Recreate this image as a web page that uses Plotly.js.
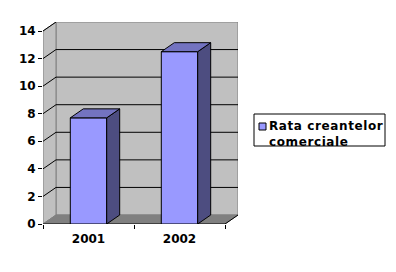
<!DOCTYPE html>
<html>
<head>
<meta charset="utf-8">
<script src="https://cdn.plot.ly/plotly-3.0.1.min.js"></script>
<style>
html,body{margin:0;padding:0;background:#fff;}
#chart{width:396px;height:272px;}
.annotation-text{letter-spacing:0.6px;}
</style>
</head>
<body>
<div id="chart"></div>
<script>
// ---- data ----
const categories = ['2001', '2002'];
const values = [7.7, 12.5];
const seriesName = 'Rata creantelor<br>comerciale';
const yTickVals = [0, 2, 4, 6, 8, 10, 12, 14];

// ---- layout geometry (pixels) ----
const W = 396, H = 272;
const PL = 43, PW = 195, PT = 22, PH = 202;
const CAT_PX = 91;                 // pixel width of one category
const DEPTH_PX_X = 13, DEPTH_PX_Y = 9;
const Y_MAX = 14;
const PX_PER_UNIT = 193 / Y_MAX;
const DX = DEPTH_PX_X / CAT_PX;
const DY = DEPTH_PX_Y / PX_PER_UNIT;
const NC = categories.length;
const BAR_HALF = 0.2;

const FRONT = '#9999ff', SIDE = '#4d4d80', TOP = '#7373c0';
const WALL = '#c0c0c0', FLOOR = '#808080', EDGE = '#808080';
const font = {family: 'DejaVu Sans', size: 12, color: '#000', weight: 700};

const xc = categories.map((c, i) => i + 0.5);

const traces = [];
// front faces
traces.push({
  type: 'bar', x: xc, y: values, width: xc.map(() => 2 * BAR_HALF),
  marker: {color: FRONT, line: {color: '#000', width: 1}},
  showlegend: false, hoverinfo: 'skip'
});
// side and top faces
const sx = [], sy = [], tx = [], ty = [];
values.forEach((v, i) => {
  const r = xc[i] + BAR_HALF, l = xc[i] - BAR_HALF;
  sx.push(r, r, r + DX, r + DX, r, null);
  sy.push(0, v, v + DY, DY, 0, null);
  tx.push(l, r, r + DX, l + DX, l, null);
  ty.push(v, v, v + DY, v + DY, v, null);
});
traces.push({type: 'scatter', mode: 'lines', x: sx, y: sy, fill: 'toself',
  fillcolor: SIDE, line: {color: '#000', width: 1}, showlegend: false, hoverinfo: 'skip'});
traces.push({type: 'scatter', mode: 'lines', x: tx, y: ty, fill: 'toself',
  fillcolor: TOP, line: {color: '#000', width: 1}, showlegend: false, hoverinfo: 'skip'});

// ---- walls ----
const shapes = [];
shapes.push({type: 'rect', xref: 'x', yref: 'y', layer: 'below',
  x0: DX, x1: NC + DX, y0: DY, y1: Y_MAX + DY,
  fillcolor: WALL, line: {color: EDGE, width: 1}});
shapes.push({type: 'path', xref: 'x', yref: 'y', layer: 'below',
  path: `M0,0 L0,${Y_MAX} L${DX},${Y_MAX + DY} L${DX},${DY} Z`,
  fillcolor: WALL, line: {color: EDGE, width: 1}});
shapes.push({type: 'path', xref: 'x', yref: 'y', layer: 'below',
  path: `M0,0 L${NC},0 L${NC + DX},${DY} L${DX},${DY} Z`,
  fillcolor: FLOOR, line: {color: FLOOR, width: 1}});
yTickVals.forEach(v => {
  if (v > 0 && v < Y_MAX) {
    shapes.push({type: 'line', xref: 'x', yref: 'y', layer: 'below',
      x0: DX, x1: NC + DX, y0: v + DY, y1: v + DY, line: {color: '#000', width: 1}});
  }
  if (v > 0) {
    shapes.push({type: 'line', xref: 'x', yref: 'y', layer: 'below',
      x0: 0, x1: DX, y0: v, y1: v + DY, line: {color: '#000', width: 1}});
  }
});
shapes.push({type: 'line', xref: 'x', yref: 'y', layer: 'below',
  x0: 0, x1: NC, y0: 0, y1: 0, line: {color: '#000', width: 1}});
shapes.push({type: 'line', xref: 'x', yref: 'y', layer: 'below',
  x0: NC, x1: NC + DX, y0: 0, y1: DY, line: {color: '#000', width: 1}});

// ---- legend (drawn box) ----
const px = p => (p - PL) / PW;
const py = p => (PT + PH - p) / PH;
shapes.push({type: 'rect', xref: 'paper', yref: 'paper',
  x0: px(254), x1: px(385), y0: py(146), y1: py(114),
  fillcolor: '#fff', line: {color: '#000', width: 1}});
shapes.push({type: 'rect', xref: 'paper', yref: 'paper',
  x0: px(259), x1: px(266), y0: py(130), y1: py(123),
  fillcolor: FRONT, line: {color: '#000', width: 1}});
const annotations = [{
  xref: 'paper', yref: 'paper', x: px(267), y: py(134),
  xanchor: 'left', yanchor: 'middle', align: 'left',
  text: seriesName, showarrow: false, font: font
}];

const layout = {
  width: W, height: H,
  margin: {l: PL, r: W - PL - PW, t: PT, b: H - PT - PH, pad: 0},
  paper_bgcolor: '#fff', plot_bgcolor: '#fff',
  showlegend: false,
  font: font,
  xaxis: {
    range: [0, NC + DX], fixedrange: true,
    tickmode: 'array', tickvals: xc, ticktext: categories, ticks: '',
    showgrid: false, zeroline: false, showline: false,
    tickfont: font, ticklabelstandoff: 6,
    minor: {tickmode: 'array', tickvals: categories.map((c, i) => i).concat([NC]),
            ticks: 'outside', ticklen: 4, tickcolor: '#000', tickwidth: 1, showgrid: false}
  },
  yaxis: {
    range: [0, Y_MAX + DY], fixedrange: true,
    tickmode: 'array', tickvals: yTickVals,
    ticks: 'outside', ticklen: 4, tickcolor: '#000', tickwidth: 1,
    showgrid: false, zeroline: false, showline: false,
    tickfont: font
  },
  shapes: shapes,
  annotations: annotations
};

Plotly.newPlot('chart', traces, layout, {displayModeBar: false, staticPlot: true});
</script>
</body>
</html>
